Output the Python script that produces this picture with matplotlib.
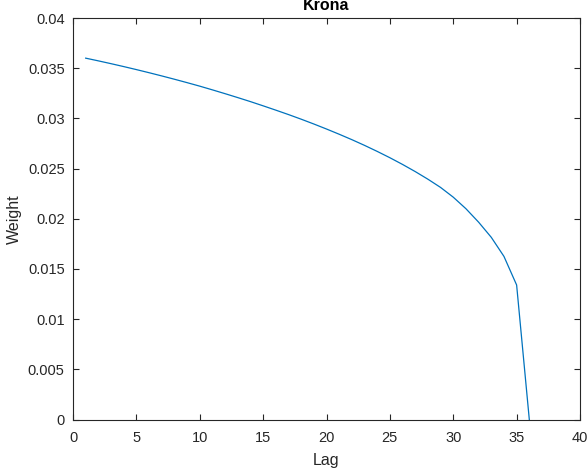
import numpy as np
import matplotlib.pyplot as plt

plt.rcParams['font.family'] = ['Liberation Sans', 'DejaVu Sans']

# lag weights
lags = list(range(1, 37))
weights = [0.03600, 0.03573, 0.03545, 0.03516, 0.03486, 0.03455, 0.03423,
           0.03390, 0.03356, 0.03321, 0.03284, 0.03246, 0.03207, 0.03167,
           0.03125, 0.03082, 0.03038, 0.02992, 0.02944, 0.02894, 0.02842,
           0.02788, 0.02731, 0.02671, 0.02608, 0.02541, 0.02470, 0.02394,
           0.02312, 0.02215, 0.02100, 0.01966, 0.01815, 0.01625, 0.01340,
           0.0]
x_ticks = [0, 5, 10, 15, 20, 25, 30, 35, 40]
y_ticks = [0, 0.005, 0.01, 0.015, 0.02, 0.025, 0.03, 0.035, 0.04]
y_tick_labels = ["0", "0.005", "0.01", "0.015", "0.02", "0.025", "0.03", "0.035", "0.04"]

axis_color = "#262626"

fig = plt.figure(figsize=(5.88, 4.73), dpi=100)
ax = fig.add_axes([73 / 588, 1 - 419.5 / 473, 507 / 588, 401.5 / 473])

ax.plot(lags, weights, color="#0072BD", linewidth=0.9)

ax.set_xlim(0, 40)
ax.set_ylim(0, 0.04)
ax.set_xticks(x_ticks)
ax.set_yticks(y_ticks)
ax.set_yticklabels(y_tick_labels)
ax.tick_params(direction="in", top=True, right=True, length=4, width=0.8,
               colors=axis_color, labelsize=10.5)
ax.tick_params(axis="x", pad=8)
ax.tick_params(axis="y", pad=6)
for spine in ax.spines.values():
    spine.set_color(axis_color)
    spine.set_linewidth(0.8)

ax.set_xlabel("Lag", fontsize=11.5, color=axis_color, labelpad=6)
ax.set_ylabel("Weight", fontsize=11.5, color=axis_color, labelpad=4)
ax.set_title("Krona", fontsize=11.5, fontweight="bold", color="black", pad=6)

fig.savefig("out.png", dpi=100)
